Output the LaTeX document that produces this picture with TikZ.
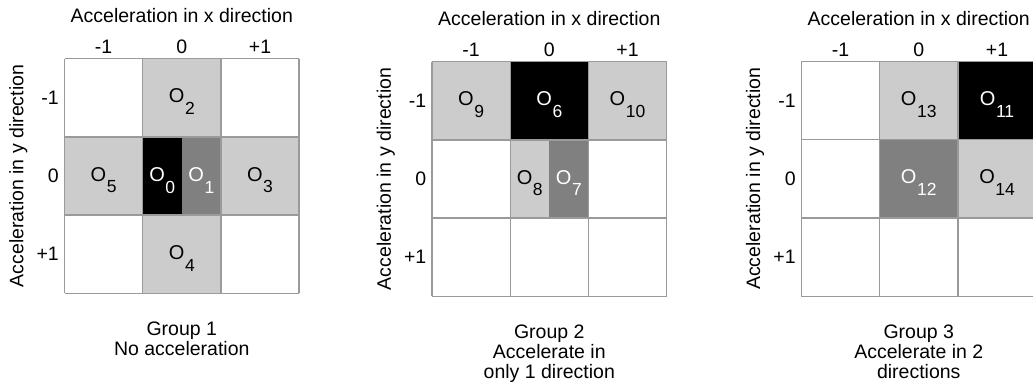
\documentclass[tikz,border=0pt]{standalone}
\usepackage{fontspec}
\setmainfont{Liberation Sans}
\definecolor{lightcell}{HTML}{CCCCCC}
\definecolor{darkcell}{HTML}{808080}
\definecolor{gridgray}{HTML}{9A9A9A}
\newcommand\olab[1]{{\fontsize{20}{20}\selectfont O}\hspace{0.6pt}\raisebox{-11.7pt}{\fontsize{17.5}{17.5}\selectfont #1}}
\newcommand\axesframe[1]{%
  \node[lab] (#1title) at (1.5,-0.546) {Acceleration in x direction};
  \node[lab] (#1cA) at (0.5,-0.153) {-1};
  \node[lab] (#1cB) at (1.5,-0.153) {0};
  \node[lab] (#1cC) at (2.5,-0.153) {+1};
  \node[lab,anchor=east] (#1rA) at (-0.07,0.5) {-1};
  \node[lab,anchor=east] (#1rB) at (-0.07,1.5) {0};
  \node[lab,anchor=east] (#1rC) at (-0.07,2.5) {+1};
  \node[lab,rotate=90] (#1yl) at (-0.59,1.5) {Acceleration in y direction};
}
\newcommand\gridlines{%
  \foreach \k in {0,...,3} {
    \draw[gridline] (\k,0) -- (\k,3);
    \draw[gridline] (0,\k) -- (3,\k);
  }%
}
\begin{document}
\begin{tikzpicture}[
  lab/.style={font=\fontsize{19.5}{20}\selectfont, inner sep=0pt},
  olab/.style={lab, anchor=base},
  caption/.style={lab, anchor=north, align=center},
  gridline/.style={draw=gridgray, line width=1.3pt},
  light/.style={fill=lightcell},
  dark/.style={fill=darkcell},
  blk/.style={fill=black}
]
\useasboundingbox (0,0) rectangle (1033pt,-381pt);
\clip (0,0) rectangle (1033pt,-381pt);

% ---------- Group 1 ----------
\begin{scope}[shift={(64.5pt,-58.7pt)}, x=78.2pt, y=-78.2pt]
  \path[light] (1,0) rectangle (2,1);
  \path[light] (0,1) rectangle (1,2);
  \path[light] (2,1) rectangle (3,2);
  \path[light] (1,2) rectangle (2,3);
  \path[blk] (1,1) rectangle (1.5,2);
  \path[dark] (1.5,1) rectangle (2,2);
  \gridlines
  \axesframe{a}
  \node[olab] (o2) at (1.5,0.566) {\olab{2}};
  \node[olab] (o5) at (0.5,1.566) {\olab{5}};
  \node[olab,text=white] (o0) at (1.25,1.57) {\olab{0}};
  \node[olab,text=white] (o1) at (1.75,1.57) {\olab{1}};
  \node[olab] (o3) at (2.5,1.566) {\olab{3}};
  \node[olab] (o4) at (1.5,2.566) {\olab{4}};
  \node[caption] (g1) at (1.5,3.36) {Group 1\\No acceleration};
\end{scope}

% ---------- Group 2 ----------
\begin{scope}[shift={(432pt,-61.7pt)}, x=78.2pt, y=-78.2pt]
  \path[light] (0,0) rectangle (1,1);
  \path[blk] (1,0) rectangle (2,1);
  \path[light] (2,0) rectangle (3,1);
  \path[light] (1,1) rectangle (1.5,2);
  \path[dark] (1.5,1) rectangle (2,2);
  \gridlines
  \axesframe{b}
  \node[olab] (o9) at (0.5,0.566) {\olab{9}};
  \node[olab,text=white] (o6) at (1.5,0.566) {\olab{6}};
  \node[olab] (o10) at (2.5,0.566) {\olab{10}};
  \node[olab] (o8) at (1.25,1.566) {\olab{8}};
  \node[olab,text=white] (o7) at (1.75,1.566) {\olab{7}};
  \node[caption] (g2) at (1.5,3.36) {Group 2\\Accelerate in\\only 1 direction};
\end{scope}

% ---------- Group 3 ----------
\begin{scope}[shift={(801.3pt,-61.3pt)}, x=78.3pt, y=-78.3pt]
  \path[light] (1,0) rectangle (2,1);
  \path[blk] (2,0) rectangle (3,1);
  \path[dark] (1,1) rectangle (2,2);
  \path[light] (2,1) rectangle (3,2);
  \gridlines
  \axesframe{c}
  \node[olab] (o13) at (1.5,0.566) {\olab{13}};
  \node[olab,text=white] (o11) at (2.5,0.566) {\olab{11}};
  \node[olab,text=white] (o12) at (1.5,1.566) {\olab{12}};
  \node[olab] (o14) at (2.5,1.566) {\olab{14}};
  \node[caption] (g3) at (1.5,3.36) {Group 3\\Accelerate in 2\\directions};
\end{scope}
\end{tikzpicture}
\end{document}
